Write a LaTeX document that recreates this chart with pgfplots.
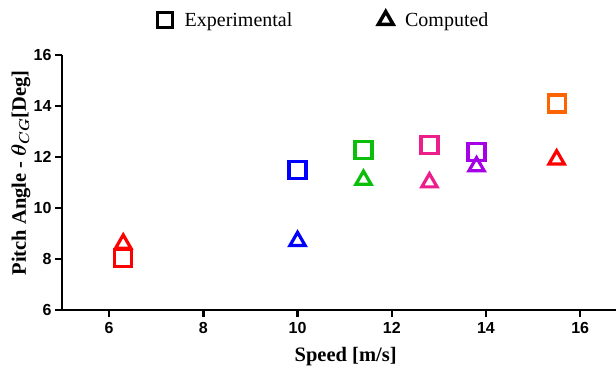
\documentclass[border=0pt]{standalone}
\usepackage{pgfplots}
\pgfplotsset{compat=1.18}
\usepackage{fontspec}
\usepackage{bm}
\setmainfont{Liberation Serif}
\setsansfont{Liberation Sans}
\definecolor{cred}{RGB}{255,0,0}
\definecolor{cblue}{RGB}{0,0,255}
\definecolor{cgreen}{RGB}{10,190,10}
\definecolor{cpink}{RGB}{235,30,140}
\definecolor{cpurple}{RGB}{165,0,230}
\definecolor{corange}{RGB}{255,100,0}
\begin{document}
\begin{tikzpicture}
\begin{axis}[
  scale only axis,
  width=554pt, height=255pt,
  xmin=5, xmax=16.76, ymin=6, ymax=16,
  axis x line*=bottom, axis y line*=left,
  axis line style={line width=2.5pt, black},
  xtick={6,8,10,12,14,16}, ytick={6,8,10,12,14,16},
  tick align=outside,
  major tick length=7pt,
  tick style={line width=2.5pt, black},
  /pgf/number format/assume math mode=true,
  ticklabel style={font=\sffamily\bfseries\fontsize{16}{16}\selectfont},
  xticklabel style={yshift=-2pt},
  xlabel={\textbf{Speed [m/s]}},
  ylabel={\textbf{Pitch Angle - {\boldmath$\theta_{CG}$}[Deg]}},
  label style={font=\fontsize{20.5}{22}\selectfont},
  xlabel style={at={(rel axis cs:0.512,-0.184)}, anchor=center},
  ylabel style={at={(rel axis cs:-0.074,0.537)}, anchor=center},
  clip=false,
  legend columns=2,
  legend style={draw=none, font=\fontsize{20}{22}\selectfont, at={(rel axis cs:0.473,1.137)}, anchor=center,
    /tikz/every odd column/.append style={column sep=10pt},
    /tikz/every even column/.append style={column sep=84pt}},
  legend cell align=left,
]
\addlegendimage{only marks, mark=square, mark size=7.5pt, line width=3.5pt, black}
\addlegendentry{Experimental}
\addlegendimage{only marks, mark=triangle, mark size=8.5pt, line width=3.5pt, black}
\addlegendentry{Computed}
\path (rel axis cs:0,0) coordinate (O) (rel axis cs:1,1) coordinate (E);
% Experimental
\addplot[only marks, mark=square, mark size=8.5pt, line width=3.2pt, cred, forget plot] coordinates {(6.3,8.03)};
\addplot[only marks, mark=square, mark size=8.5pt, line width=3.2pt, cblue, forget plot] coordinates {(10.0,11.5)};
\addplot[only marks, mark=square, mark size=8.5pt, line width=3.2pt, cgreen, forget plot] coordinates {(11.4,12.26)};
\addplot[only marks, mark=square, mark size=8.5pt, line width=3.2pt, cpink, forget plot] coordinates {(12.8,12.46)};
\addplot[only marks, mark=square, mark size=8.5pt, line width=3.2pt, cpurple, forget plot] coordinates {(13.8,12.2)};
\addplot[only marks, mark=square, mark size=8.5pt, line width=3.2pt, corange, forget plot] coordinates {(15.5,14.1)};
% Computed
\addplot[only marks, mark=triangle, mark size=8.8pt, line width=3.2pt, cred, forget plot] coordinates {(6.3,8.6)};
\addplot[only marks, mark=triangle, mark size=8.8pt, line width=3.2pt, cblue, forget plot] coordinates {(10.0,8.7)};
\addplot[only marks, mark=triangle, mark size=8.8pt, line width=3.2pt, cgreen, forget plot] coordinates {(11.4,11.1)};
\addplot[only marks, mark=triangle, mark size=8.8pt, line width=3.2pt, cpink, forget plot] coordinates {(12.8,11.0)};
\addplot[only marks, mark=triangle, mark size=8.8pt, line width=3.2pt, cpurple, forget plot] coordinates {(13.8,11.63)};
\addplot[only marks, mark=triangle, mark size=8.8pt, line width=3.2pt, cred, forget plot] coordinates {(15.5,11.9)};
\end{axis}
\pgfresetboundingbox
\path ([shift={(-62pt,-62pt)}]O) rectangle ([shift={(0pt,55pt)}]E);
\end{tikzpicture}
\end{document}
